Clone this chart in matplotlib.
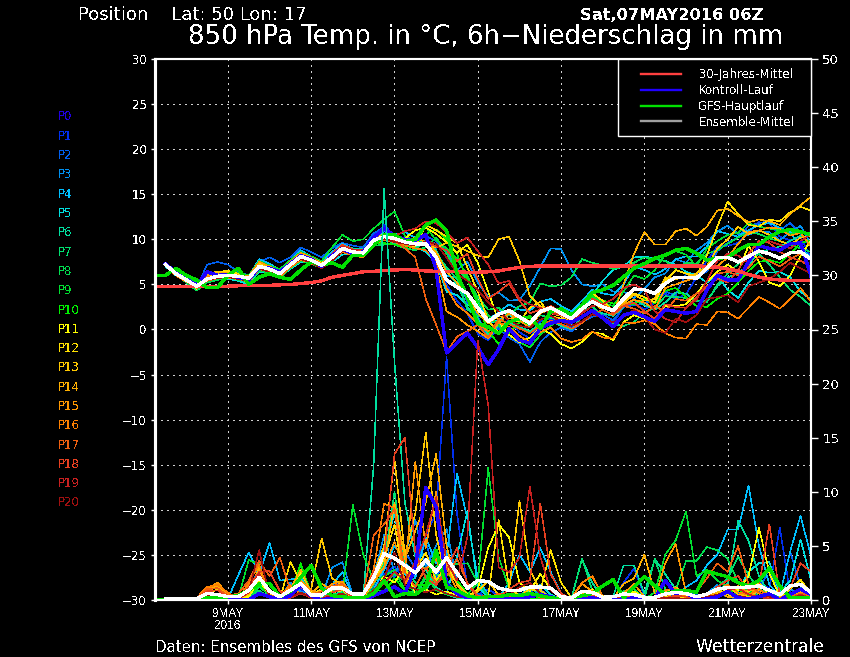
import numpy as np
import matplotlib
matplotlib.use("Agg")
import matplotlib.pyplot as plt
from matplotlib.lines import Line2D
from matplotlib.patches import Rectangle

#tick labels and time axis, one step is 6 hours from 07MAY 06Z
tick_steps = [7, 15, 23, 31, 39, 47, 55, 63]
tick_labels = ['9MAY\n2016', '11MAY', '13MAY', '15MAY', '17MAY', '19MAY', '21MAY', '23MAY']
n_steps = 64

#climate mean starts at step 0
climate = [4.75, 4.75, 4.75, 4.75, 4.75, 4.75, 4.75, 4.8, 4.85, 4.9, 4.9, 4.9, 4.95, 5.0, 5.1, 5.2,
           5.4, 5.8, 6.0, 6.2, 6.4, 6.45, 6.55, 6.6, 6.65, 6.6, 6.5, 6.45, 6.4, 6.4, 6.35, 6.35,
           6.4, 6.5, 6.7, 6.9, 7.0, 7.05, 7.05, 7.05, 7.05, 7.05, 7.05, 7.05, 7.05, 7.05, 7.05, 7.05,
           7.05, 7.05, 7.05, 7.05, 7.05, 7.0, 6.9, 6.7, 6.5, 6.1, 5.8, 5.6, 5.5, 5.45, 5.45, 5.45]

#main run starts at step 0 too
gfs_temp = [6.0, 6.0, 6.8, 6.0, 5.5, 4.65, 4.65, 6.0, 6.8, 5.0, 5.8, 6.2, 5.8, 5.55, 6.6, 7.5,
            7.15, 7.4, 6.9, 8.25, 8.25, 9.4, 10.5, 10.5, 9.75, 10.0, 11.6, 12.15, 11.0, 6.2, 3.6, 0.65,
            0.3, -0.45, 0.85, 1.2, 1.4, 0.1, 2.0, 2.3, 1.6, 2.7, 4.1, 4.4, 4.9, 5.85, 6.8, 7.3,
            7.9, 8.25, 8.8, 9.0, 8.45, 7.7, 7.9, 8.0, 8.8, 9.4, 9.4, 10.3, 10.85, 11.1, 10.85, 10.5]
gfs_precip = [0, 0, 0, 0, 0.1, 0.2, 0.2, 0.3, 0.4, 0.9, 1.5, 1.5, 0.3, 0.8, 2.1, 3.2,
              1.1, 0.4, 0.3, 0.2, 0.2, 0.6, 1.8, 0.3, 0.6, 0.5, 1.2, 4.6, 1.2, 0.9, 0.4, 0.2,
              0.3, 0.3, 0.5, 0.4, 0.6, 0.4, 0.2, 0.1, 0.2, 0.4, 0.6, 1.3, 1.9, 0.2, 1.2, 2.15,
              1.3, 0.55, 0.85, 0.9, 0.7, 2.65, 2.4, 2.15, 1.6, 1.3, 1.8, 2.95, 1.3, 0.2, 0.2, 0.2]

#ensemble mean, members start at step 1
mean_temp = [7.2, 6.2, 5.5, 4.8, 5.6, 5.9, 6.0, 5.9, 5.7, 7.0, 6.7, 6.2, 7.2, 8.1, 7.7, 7.1, 8.0, 9.0,
             8.6, 8.5, 9.9, 10.3, 10.1, 9.7, 9.5, 9.5, 8.0, 5.5, 4.7, 4.0, 2.4, 0.9, 1.7, 2.1, 1.4, 0.7,
             2.0, 2.4, 1.8, 1.2, 2.3, 3.1, 2.5, 2.1, 3.4, 4.5, 4.4, 4.0, 5.1, 5.8, 5.8, 5.7, 6.8, 8.0,
             8.0, 7.5, 8.1, 8.7, 8.4, 7.9, 8.5, 8.6, 7.8]
mean_precip = [0.1, 0.1, 0.1, 0.1, 0.6, 0.5, 0.3, 0.3, 0.9, 2.1, 0.8, 0.3, 0.9, 1.5, 0.45, 0.45, 1.1, 1.1,
               0.55, 0.55, 2.1, 4.3, 3.85, 3.2, 2.5, 3.7, 2.6, 3.9, 2.5, 1.1, 1.8, 1.7, 1.1, 0.9, 0.9, 1.2,
               1.2, 1.1, 0.3, 0.2, 0.8, 0.7, 0.25, 0.3, 0.55, 0.5, 0.25, 0.25, 0.55, 0.7, 0.6, 0.3, 0.55, 1.0,
               1.15, 1.15, 1.2, 1.3, 0.9, 0.5, 1.3, 1.45, 0.7]

#temperature of the members P0 to P20
p0_temp = [7.3, 6.3, 5.6, 4.9, 6.4, 6.0, 6.1, 5.8, 5.5, 6.9, 6.8, 6.4, 7.3, 8.2, 7.8, 7.0, 8.2, 9.0,
           8.4, 8.6, 10.2, 11.2, 10.4, 10.0, 9.9, 10.5, 6.6, -2.6, -1.5, -0.4, -2.0, -3.9, -2.2, 0.1, -1.2, -1.5,
           0.1, 0.7, 1.0, 0.8, 1.4, 2.1, 1.3, 0.3, 1.6, 1.9, 1.4, 0.9, 2.2, 2.0, 1.8, 2.0, 4.4, 6.0,
           5.5, 5.5, 7.5, 9.3, 9.0, 8.8, 9.5, 9.6, 5.9]
p1_temp = [7.1, 6.2, 5.5, 4.8, 5.8, 6.1, 5.9, 5.8, 5.7, 7.2, 6.5, 6.1, 7.1, 8.0, 7.6, 6.9, 7.9, 8.8,
           8.3, 8.4, 10.0, 11.6, 10.3, 9.8, 9.6, 9.8, 8.9, 5.0, 3.2, 1.8, -0.5, -1.2, 0.2, 1.0, -0.3, -1.0,
           0.9, 1.2, 0.6, 0.2, 1.3, 2.0, 1.4, 0.6, 2.6, 2.9, 2.2, 3.0, 4.0, 3.4, 3.9, 5.8, 7.6, 9.2,
           9.3, 9.6, 10.8, 11.9, 11.8, 10.3, 9.9, 10.2, 7.9]
p2_temp = [7.3, 6.4, 5.4, 4.6, 7.2, 7.5, 7.2, 6.4, 6.0, 7.5, 8.0, 7.4, 8.0, 9.1, 8.6, 8.0, 9.0, 9.6,
           9.3, 9.1, 10.7, 11.3, 10.5, 9.6, 9.9, 10.4, 9.8, 8.6, 6.1, 3.0, 1.5, -1.1, 0.1, -0.9, -1.6, -3.6,
           -1.4, -0.3, 0.2, -0.2, 0.8, 1.4, 1.7, 1.0, 2.5, 2.7, 2.9, 3.4, 4.2, 3.8, 6.2, 6.0, 6.4, 8.7,
           9.6, 10.2, 11.5, 11.8, 12.0, 11.0, 11.8, 10.6, 9.2]
p3_temp = [7.2, 6.1, 5.3, 4.6, 5.5, 5.8, 5.9, 6.1, 6.0, 6.7, 6.5, 6.0, 7.0, 8.0, 7.5, 6.9, 7.9, 8.9,
           8.4, 8.6, 10.0, 10.4, 9.9, 9.4, 9.4, 9.9, 9.5, 9.0, 6.6, 7.5, 5.2, 3.6, 4.1, 3.2, 3.3, 4.8,
           6.9, 9.0, 8.9, 6.6, 5.0, 4.8, 5.0, 4.2, 4.2, 3.5, 4.5, 5.8, 6.2, 7.8, 7.4, 8.8, 9.6, 10.9,
           11.5, 10.6, 10.5, 10.9, 10.8, 9.9, 10.8, 11.5, 9.4]
p4_temp = [7.4, 6.5, 5.8, 5.0, 6.3, 6.0, 6.3, 6.2, 5.9, 7.8, 7.3, 6.6, 7.6, 8.8, 8.1, 7.4, 8.6, 9.5,
           8.9, 8.6, 9.9, 10.9, 10.5, 10.8, 10.2, 9.6, 7.9, 6.0, 5.7, 3.3, 3.1, 1.1, 1.9, 2.8, 2.2, 2.1,
           3.1, 3.4, 2.6, 2.0, 3.2, 4.4, 4.0, 3.8, 5.0, 7.0, 6.6, 6.1, 6.7, 7.8, 8.1, 8.1, 9.2, 10.9,
           10.6, 10.3, 11.0, 11.6, 11.8, 11.3, 10.8, 9.1, 8.0]
p5_temp = [7.0, 6.0, 5.3, 4.6, 5.2, 5.6, 5.6, 5.4, 5.0, 6.4, 6.2, 5.9, 6.7, 7.5, 7.4, 6.9, 7.5, 8.3,
           8.4, 8.2, 9.4, 9.9, 9.8, 9.3, 9.2, 8.6, 7.4, 4.2, 3.8, 2.7, 2.9, 0.7, 1.0, 1.6, 1.0, 0.4,
           1.1, 1.5, 1.2, 0.6, 2.1, 3.8, 5.4, 6.6, 7.0, 8.0, 8.1, 7.9, 7.6, 7.2, 6.4, 6.0, 5.2, 6.0,
           4.4, 3.5, 5.2, 6.5, 6.3, 6.4, 5.8, 4.2, 3.3]
p6_temp = [7.2, 6.3, 5.6, 5.0, 5.9, 6.1, 6.2, 6.0, 5.8, 7.1, 6.8, 6.4, 7.4, 8.2, 7.8, 7.2, 8.1, 9.2,
           9.0, 8.9, 10.2, 10.6, 10.2, 9.3, 9.6, 9.9, 8.8, 6.5, 5.0, 2.5, 1.2, -0.6, 0.4, 0.8, 0.3, -0.2,
           0.6, 0.9, 0.4, 0.0, 1.5, 2.2, 1.8, 1.5, 2.5, 3.3, 2.7, 2.2, 3.0, 4.1, 4.0, 3.1, 3.2, 4.8,
           5.8, 6.2, 7.2, 8.5, 8.9, 9.2, 9.8, 10.4, 9.6]
p7_temp = [7.3, 6.4, 5.5, 4.9, 5.7, 6.1, 5.9, 5.7, 5.6, 6.8, 6.6, 6.0, 7.2, 7.9, 7.5, 7.0, 8.3, 9.1,
           8.5, 8.6, 10.0, 10.1, 9.5, 9.4, 9.0, 9.7, 8.4, 6.9, 5.6, 2.2, 1.5, 1.2, 0.6, 2.0, 1.0, 0.8,
           1.6, 1.3, 1.0, 0.7, 1.9, 2.6, 1.4, 0.6, 0.4, 0.8, 1.9, 2.4, 3.7, 3.6, 3.5, 3.2, 3.0, 5.0,
           6.2, 7.3, 8.0, 8.4, 7.2, 5.8, 4.4, 3.6, 2.6]
p8_temp = [7.1, 6.1, 5.2, 4.3, 5.2, 5.5, 5.8, 5.5, 5.3, 6.5, 6.3, 5.7, 6.8, 7.6, 7.3, 6.8, 7.7, 8.6,
           8.2, 8.3, 9.3, 9.4, 9.4, 9.0, 8.8, 9.1, 10.2, 8.4, 6.6, 5.6, 3.6, 2.2, 2.4, 1.6, 2.6, 3.0,
           5.1, 4.8, 4.9, 5.8, 7.8, 7.4, 7.1, 6.7, 7.0, 7.4, 8.0, 7.8, 7.6, 6.8, 7.4, 7.3, 8.4, 8.8,
           9.5, 10.2, 10.8, 10.6, 10.1, 9.8, 9.4, 9.0, 8.6]
p9_temp = [7.3, 6.4, 5.7, 5.2, 6.0, 6.2, 6.4, 6.3, 6.0, 7.6, 7.1, 6.7, 7.7, 8.6, 8.1, 7.6, 9.1, 10.5,
           9.8, 10.0, 11.2, 12.2, 13.1, 10.4, 9.8, 11.4, 9.9, 9.0, 7.8, 6.0, 3.2, 1.6, 0.4, -0.6, -1.4, -2.0,
           -0.6, 0.4, 1.2, 1.5, 2.8, 3.6, 3.0, 2.6, 4.2, 6.0, 5.6, 6.6, 8.3, 8.7, 8.3, 7.0, 9.0, 9.8,
           10.5, 10.7, 11.8, 11.4, 11.2, 11.0, 10.6, 10.9, 10.4]
p10_temp = [7.2, 6.2, 5.4, 4.7, 5.7, 5.8, 6.2, 6.0, 5.7, 6.9, 6.5, 6.2, 7.3, 8.0, 7.7, 7.2, 7.8, 8.8,
            8.3, 8.4, 9.6, 9.6, 9.4, 9.1, 9.4, 10.6, 11.1, 10.0, 8.4, 5.5, 2.8, -0.2, -1.6, -0.4, 0.8, 0.6,
            2.1, 2.5, 2.0, 1.1, 2.6, 3.8, 3.2, 2.9, 3.0, 2.8, 3.4, 2.9, 4.3, 4.6, 3.6, 2.6, 2.5, 3.4,
            4.0, 5.2, 6.5, 7.5, 7.7, 7.4, 8.4, 9.6, 9.9]
p11_temp = [7.4, 6.5, 5.6, 4.5, 5.9, 6.2, 6.4, 6.2, 5.6, 6.8, 6.6, 6.3, 7.2, 8.1, 7.8, 7.3, 8.1, 9.1,
            8.3, 8.0, 9.6, 10.4, 10.2, 10.1, 11.0, 11.3, 10.6, 9.7, 8.5, 9.4, 7.4, 4.2, 0.9, -0.6, -1.4, -0.9,
            0.2, -0.5, -1.6, -2.1, -1.4, -0.3, -0.5, -1.2, 0.8, 1.6, 1.2, 1.0, 2.6, 2.6, 2.8, 4.0, 5.3, 6.4,
            7.2, 6.4, 9.3, 7.5, 5.2, 4.8, 6.0, 8.2, 9.9]
p12_temp = [7.3, 6.3, 5.5, 4.7, 6.1, 6.4, 6.5, 6.2, 5.7, 7.4, 6.9, 6.5, 7.3, 8.4, 7.9, 7.4, 8.1, 8.9,
            8.8, 8.6, 10.1, 10.5, 10.2, 9.6, 9.2, 11.6, 11.0, 10.3, 9.6, 6.9, 4.2, 1.0, -0.4, 1.0, 0.9, 2.4,
            3.1, 1.5, 1.2, 1.0, 2.8, 4.0, 3.2, 2.0, 3.0, 4.0, 3.6, 3.0, 5.4, 6.6, 6.2, 6.0, 8.2, 11.4,
            14.2, 12.8, 11.6, 11.4, 12.2, 12.0, 13.0, 13.6, 13.2]
p13_temp = [7.2, 6.1, 5.4, 4.8, 6.2, 6.4, 6.2, 5.8, 5.6, 7.2, 6.7, 6.1, 7.0, 8.1, 7.6, 7.0, 7.8, 9.0,
            8.5, 8.4, 9.7, 10.2, 9.9, 9.8, 9.8, 9.4, 9.1, 9.6, 9.2, 8.7, 8.2, 8.0, 10.0, 10.3, 7.6, 3.7,
            2.6, 1.8, 1.5, 1.0, 2.2, 3.2, 2.4, 2.0, 2.9, 3.9, 3.2, 3.4, 5.8, 5.6, 5.8, 6.2, 7.0, 9.0,
            10.0, 11.4, 10.6, 11.0, 10.5, 9.8, 9.4, 10.2, 10.4]
p14_temp = [7.3, 6.2, 5.6, 5.0, 6.0, 6.2, 6.3, 6.0, 5.8, 7.1, 6.6, 6.1, 7.1, 8.3, 7.7, 7.1, 8.3, 9.3,
            8.7, 8.4, 9.9, 10.6, 10.1, 9.8, 10.2, 9.7, 8.6, 6.4, 5.2, 3.6, 1.8, 0.7, 1.5, 1.2, 1.4, 0.9,
            2.0, 2.4, 1.6, 1.4, 2.6, 3.0, 2.2, 1.6, 5.0, 8.4, 10.8, 9.4, 9.4, 10.9, 11.2, 10.4, 11.4, 13.2,
            13.4, 12.6, 11.9, 12.2, 12.0, 11.6, 12.8, 13.8, 14.7]
p15_temp = [7.4, 6.4, 5.6, 4.9, 6.3, 6.1, 6.2, 6.0, 5.9, 7.5, 7.0, 6.4, 7.5, 8.5, 8.0, 7.3, 8.2, 9.2,
            8.7, 8.3, 10.0, 10.5, 10.0, 9.7, 9.4, 9.5, 7.2, 2.0, 1.4, 0.5, -0.2, -1.0, 0.8, 1.8, 1.0, 0.2,
            1.8, 2.2, 1.6, 1.2, 2.2, 3.0, 2.8, 2.2, 2.8, 3.3, 3.0, 2.2, 4.6, 5.0, 5.4, 5.8, 6.7, 7.0,
            8.0, 9.5, 10.8, 11.0, 11.3, 11.2, 10.4, 10.7, 9.2]
p16_temp = [7.1, 6.0, 5.3, 4.7, 5.8, 5.8, 5.7, 5.6, 5.3, 6.7, 6.4, 5.8, 6.9, 7.7, 7.4, 6.8, 7.7, 8.6,
            8.2, 8.0, 9.5, 9.9, 9.7, 9.3, 9.0, 8.8, 7.6, 4.6, 2.7, 1.8, 0.6, -0.2, 0.8, 0.3, -0.7, -1.4,
            -0.3, 0.2, -1.0, -1.4, -1.1, -0.2, -0.9, -1.0, 0.8, 0.7, 1.0, 0.6, -0.4, -0.9, -1.0, 0.6, 0.5, 2.0,
            1.9, 1.2, 2.4, 3.6, 3.0, 2.3, 3.4, 4.6, 3.1]
p17_temp = [7.2, 6.1, 5.4, 4.6, 5.4, 5.7, 6.0, 5.9, 5.5, 6.8, 6.4, 6.0, 7.0, 7.9, 7.3, 6.9, 7.8, 8.8,
            8.3, 8.3, 9.7, 10.4, 9.9, 9.0, 8.0, 3.4, 0.5, -2.5, -0.8, -0.2, 0.5, -0.9, 1.2, 0.6, 0.1, -0.4,
            0.4, 1.0, 0.6, 0.1, 0.7, 1.7, 2.2, 1.6, 2.6, 2.3, 1.8, 2.6, 2.0, 3.4, 3.2, 4.0, 4.5, 6.2,
            6.4, 6.0, 6.9, 8.1, 7.6, 7.0, 7.8, 8.4, 8.0]
p18_temp = [7.3, 6.3, 5.5, 4.9, 5.7, 5.9, 5.9, 5.7, 5.6, 7.0, 6.7, 6.2, 7.2, 8.2, 7.6, 7.1, 8.4, 9.4,
            8.9, 8.6, 9.8, 10.2, 9.8, 9.6, 9.3, 9.7, 9.2, 8.8, 7.6, 8.4, 5.6, 3.4, 4.2, 5.1, 3.2, 1.8,
            2.2, 2.6, 2.0, 1.8, 1.9, 3.4, 2.8, 1.8, 2.6, 3.0, 2.0, 1.2, 2.8, 2.5, 2.4, 3.6, 4.8, 5.6,
            5.2, 6.6, 8.4, 9.8, 9.6, 8.6, 8.0, 7.6, 7.0]
p19_temp = [7.2, 6.2, 5.4, 4.7, 5.5, 5.8, 6.1, 6.0, 5.8, 7.0, 6.6, 6.3, 7.4, 8.0, 7.5, 7.1, 8.2, 9.2,
            8.8, 8.9, 10.0, 10.4, 10.4, 10.9, 11.2, 12.0, 11.8, 10.8, 9.6, 10.2, 8.7, 7.2, 5.1, 5.4, 3.4, 2.8,
            2.4, 1.8, 1.6, 1.0, 1.8, 2.6, 2.8, 3.4, 4.6, 5.0, 4.4, 2.0, 1.2, 0.8, 2.4, 3.3, 5.4, 7.6,
            8.4, 8.2, 7.4, 9.6, 9.8, 9.4, 9.0, 9.8, 10.6]
p20_temp = [7.1, 6.2, 5.5, 4.8, 5.5, 5.7, 5.8, 5.6, 5.4, 6.8, 6.3, 6.1, 7.2, 7.8, 7.4, 6.8, 7.6, 8.7,
            8.4, 8.4, 9.6, 10.1, 9.7, 9.5, 9.3, 9.8, 9.5, 8.0, 6.2, 5.4, 4.4, 3.0, 2.0, 1.0, 0.4, 0.2,
            1.1, 1.5, 0.9, 0.4, 0.9, 1.7, 1.3, 0.8, 1.4, 2.2, 1.4, 0.0, -0.4, 1.2, 0.8, 1.6, 3.4, 3.6,
            3.8, 3.0, 4.8, 5.2, 5.6, 6.4, 7.4, 6.8, 6.2]

#precipitation of the members, same layout
p0_precip = [0, 0, 0, 0, 0, .1, .2, .1, 0, .6, .3, 0, .4, 1.4, .4, 0, .2, .3,
             0, 0, .4, .8, 1.2, .6, 3, 10.4, 8.6, 1.5, .6, .2, .1, .3, .2, .1, .1, .3,
             .5, .3, 0, 0, .1, .2, 0, 0, .1, .2, 0, .1, 1.8, .6, .7, 0, .1, .3,
             .8, .2, .1, .3, .6, 0, .5, 1, .5]
p1_precip = [0, 0, 0, 0, 0, .2, .1, 0, .3, 1.8, .2, .1, .5, 1.0, .2, .1, 1.2, 1.8,
             .2, .1, 1.2, 2.4, 3.1, 1.8, 2.5, 6, 8, 22.5, 8, 1.2, .5, 1, .4, .2, .3, .8,
             1, .2, 0, .1, .4, .6, .2, .1, 1.6, 2.9, .4, 0, .2, .5, .1, .1, .3, .6,
             .3, .1, 1, 1.8, 1, 6.7, .6, .5, .8]
p2_precip = [0, 0, 0, 0, .1, .4, .2, .1, 1.0, 2.6, .4, 0, .8, 1.4, .3, .1, .7, 1.2,
             .3, .2, 1.8, 3.2, 2.1, 4.4, 3, 5.4, 2, 4.2, 2.6, 1.1, .6, .2, .5, .3, .6, .4,
             .8, .2, 0, .1, .3, .2, 0, .4, .6, 1, .2, .1, .7, .3, .9, .5, .1, .4,
             1.1, .6, .2, .8, 3, .4, 4.5, 1.2, .6]
p3_precip = [0, 0, 0, 0, .2, .6, .3, 0, .8, 3.0, .5, .2, 1.6, .8, .5, .3, 3.0, 3.5,
             .4, .3, 2.2, 6, 2.5, 4.2, 7.4, 3, 5, 6.6, 1.8, .4, .2, .4, .2, .1, .4, 1.2,
             .4, .1, 0, 0, .2, .5, .2, 0, .3, .8, .3, 0, .2, .1, .2, .3, .6, 1.4,
             .7, .4, .4, 1.6, .5, .2, 1, .6, .2]
p4_precip = [0, 0, 0, 0, .1, .3, .1, 2.3, 4.4, 2.4, 5.3, 1.8, 1.9, 2.1, .7, .2, 1.4, 2.6,
             .3, .1, 1, 2.8, 5, 3.6, 2, 5.8, 3.4, 4.1, 11.7, 7.5, 2, .5, .2, 1.6, 4.2, 2.6,
             4.8, 2.6, .6, .1, .3, .2, 0, .1, .2, .4, .1, 0, .1, .3, 1.2, 1.8, 3.2, 4.2,
             6.5, 6.5, 10.6, 5, 1.4, .4, 4.5, 7.8, 4]
p5_precip = [0, 0, 0, 0, 0, .2, .2, .1, .5, 1.2, .5, .1, .8, 1.6, .3, .1, .4, .8,
             .2, .1, 1.5, 4.5, 8, 2.4, 1.2, 3, .9, .6, 4, 8.2, 1.2, .3, .2, .4, 1.2, .8,
             1.4, .5, .1, .1, .4, .8, .2, .1, .4, .6, .2, .1, .3, .2, .1, .2, .5, 1,
             1.2, .8, 2.6, 3.4, 3.5, .7, 1.8, 5.6, 1.8]
p6_precip = [0, 0, 0, .1, .5, .3, .1, .1, .6, 1.6, .2, 0, .4, 2.4, .6, .1, .9, 1,
             .2, .3, 12.5, 38, 22, 9, 4, 2.8, 1.2, .5, .2, .2, .1, .1, .1, .2, .3, 1,
             .7, .4, .1, .2, 3.8, 1.6, .2, .3, 3.2, 3.2, .6, 3.8, 2.4, 1, .8, .2, .4, .8,
             1.5, 7.3, 5.5, 2.2, .6, .2, .4, .8, .5]
p7_precip = [0, 0, 0, 0, .2, .4, .1, .1, .3, .9, .2, 0, .6, 2.6, .4, 0, .5, .7,
             .1, .1, 1.4, 3.4, 10, 3, 1.6, .9, 2.4, 1.8, .6, .2, .1, .1, 0, 0, .2, .5,
             .4, .1, 0, .1, 3.8, .9, .1, 0, .1, .3, .1, 3.8, 1, .4, .2, .1, .6, 1.2,
             2, 4, 2.3, 1, .6, .3, .5, .7, .4]
p8_precip = [0, 0, 0, .2, .7, .5, .2, .1, .3, 1.2, .5, .1, .3, 1.6, .7, .1, .2, .6,
             .2, .4, .9, 1.5, 2.4, 1.8, .6, 2, 3.1, 3.4, 3.3, 3.4, 1.6, .4, .2, .1, .3, .6,
             .2, .1, 0, 0, .2, .4, 0, 0, .8, 1, .2, .1, .6, .9, 3.6, 3.6, 4.9, 4.6,
             3.8, 1.6, .8, .4, .2, 0, .2, .4, .2]
p9_precip = [0, 0, 0, .1, .3, .6, .2, .2, 3.7, 3.3, .3, 0, .3, 3.3, .6, .1, .3, .5,
             8.8, 4.2, 1.8, 2.2, 2.8, .9, .6, 2.3, .9, .5, .3, .5, 1.6, 12.2, 4, 1, .5, .7,
             .5, .3, .1, .2, .4, .2, .1, .3, .4, .2, .1, .7, 4.2, 5.5, 8.2, 2.2, 2.8, 1.8,
             1.2, .5, .3, 1, .4, .1, .3, .4, .2]
p10_precip = [0, 0, 0, 0, .2, .3, .1, .2, .4, 1.4, .5, 0, .6, 3.4, .4, 0, .4, .4,
              .1, .2, 1, .8, 2, .9, 1.4, 1.4, 1.8, 2.4, 1.8, .6, .2, .1, 0, .1, .1, .1,
              .2, .1, 0, 0, .1, .3, .2, .1, .1, .4, .1, 0, .3, .2, .1, .1, .2, .4,
              .6, 1, .4, 1.6, .6, .1, .5, 1, .3]
p11_precip = [.1, .1, 0, 0, .1, .4, .1, .1, .3, 1.8, .5, .1, .4, 2.6, .7, .1, .2, .3,
              .1, .1, .7, 2.2, 1.6, 3.1, .6, 1, .5, .8, .4, .3, 1, 4.8, 7, 5.8, 1.6, .8,
              2.4, 1, .1, 0, .3, 1, .3, .1, .4, .8, .2, .1, .1, .3, .1, 0, .2, .5,
              1, .9, 2.2, 6.7, 2.5, .3, 1.2, 1.8, .4]
p12_precip = [.1, 0, 0, 0, .3, .5, .2, .2, .5, 2, .6, .1, 3.5, 1.6, .5, 1, .7, .9,
              .2, .2, 1.6, 3.8, 7, 1.4, 2.8, 4.4, 1.8, 3.2, 1.5, .5, .3, .4, 7.4, 1.2, .4, 1,
              .8, 4.6, 1.6, .2, .3, .8, .4, .2, .5, .6, .1, .1, .4, .3, .2, .1, .3, .8,
              .5, .3, .8, 1.6, .4, .2, 1, 1.9, .5]
p13_precip = [0, 0, 0, .1, .5, 1, .3, .1, .8, 2.8, .4, .1, .5, 1.4, 1, 5.7, 2, 1.4,
              .3, .3, 2.4, 5, 13, 4.2, 8, 15.5, 6, 1.6, .6, .3, .8, 1.8, .4, .9, 9.2, 2.8,
              .9, .2, .1, .1, .4, .9, .2, .1, .3, .4, .1, .3, .8, 1.2, .3, .2, .6, .7,
              1.4, .5, .3, .9, .5, .1, .4, .9, .3]
p14_precip = [0, 0, 0, .1, .8, 1.3, .5, .1, .6, 3, .3, .1, 1, 2.8, .6, 1.5, .9, 1.6,
              .3, .2, 1.8, 3, 9, 3.8, 6.4, 9, 13.5, 5, 1.4, .4, .2, .3, .3, .2, .4, .6,
              .3, .1, 0, .2, .6, .5, .2, .1, 1.5, 2, 4.2, .6, .1, .4, .6, .3, .2, .7,
              .3, .2, 1, .6, .3, .1, .3, .8, .2]
p15_precip = [0, 0, 0, .2, 1, 1.6, .6, .2, 1.4, 2.4, .7, .2, 1.2, 1.8, .9, .4, 1.5, 1.7,
              .4, .3, 1.6, 3, 5.4, 2.6, 12.8, 4.8, 10, 3, .9, .2, .1, .1, .2, .2, .5, .3,
              .6, .2, .1, .2, 1.5, .8, .1, .1, .6, 1.5, .3, .1, 3.4, 5.2, .6, .3, .2, .5,
              .9, 1.3, .6, .3, .2, .1, .2, .7, .2]
p16_precip = [0, 0, 0, .2, 1.2, 1.4, .7, .1, 1.6, 3.3, .4, .4, 1.4, .5, .6, .3, 1.2, 1.3,
              .3, .5, 2.8, 8.9, 8.5, 1.4, 3.4, 2.8, 3.8, 1.2, .7, .3, .2, .2, .1, .1, .4, .5,
              .4, .2, .1, .2, 1.6, 2.2, .3, .1, .2, .5, .1, .2, .9, 1.1, .2, .2, .4, .9,
              1.4, .7, .5, 1, .4, .2, .6, 1, .3]
p17_precip = [0, 0, 0, .2, 1, 1.1, .4, .6, 1.8, 3.6, 2.2, 3.9, .9, 1.2, .5, .8, 1.3, 1.5,
              .4, .3, 6, 7, 8.4, 2.6, 1.2, 3, 1.6, 2.2, 3.8, 1.6, .4, .2, .6, .3, .5, .7,
              .2, .1, .1, .1, .3, .4, .1, .1, .2, .4, .1, .1, .4, .8, .6, .8, 2, 3.4,
              2.6, 5, 1.4, .7, .2, .2, .3, .6, .4]
p18_precip = [0, 0, 0, .1, .8, .9, .2, .1, 1.2, 2.6, 2.7, .8, .4, .6, .3, .1, .7, 1.0,
              .2, .2, 2.6, 4, 13.5, 15, 4.4, 2, 1.4, 2.8, 4.8, 1.4, .3, .4, .2, 1, 1.6, 1.8,
              8.9, 2.4, .6, .1, .2, .3, .2, .1, .4, .6, .2, .1, .2, .4, .3, .1, .5, 1.2,
              1.8, 2.2, .9, 1.3, 7, .5, 1.1, 3.4, 2.6]
p19_precip = [0, 0, 0, .1, .5, .6, .1, .1, .7, 2.5, .3, .1, .2, .6, .2, .1, .3, .3,
              .1, .1, .7, 1.5, 2.6, 1.8, 3.5, 6, 9.5, 3.6, 1.8, 5.8, 24, 18, 3, 2.6, 3.9, 10.5,
              4, .9, .2, .1, .1, .1, 0, .1, .1, .2, 0, .1, .1, .2, .1, .1, .2, .4,
              .9, 1.1, .5, .3, .1, .1, .2, .5, .2]
p20_precip = [0, 0, 0, .1, .4, .5, .1, .2, .8, 4.6, .3, .1, .3, .7, .2, .1, .4, .6,
              .1, .1, .9, 2, 4.4, 1.4, 1, .7, 1, .6, .3, .2, .1, .1, .2, .4, 1.2, 1.6,
              .6, .2, .1, .1, .1, .2, .1, 0, .1, .2, .1, .1, .2, .2, .1, .1, .3, .5,
              .7, .4, .2, .4, .3, .1, .2, .4, .2]

member_temp = [p0_temp, p1_temp, p2_temp, p3_temp, p4_temp, p5_temp, p6_temp, p7_temp, p8_temp, p9_temp, p10_temp,
               p11_temp, p12_temp, p13_temp, p14_temp, p15_temp, p16_temp, p17_temp, p18_temp, p19_temp, p20_temp]
member_precip = [p0_precip, p1_precip, p2_precip, p3_precip, p4_precip, p5_precip, p6_precip, p7_precip, p8_precip,
                 p9_precip, p10_precip, p11_precip, p12_precip, p13_precip, p14_precip, p15_precip, p16_precip,
                 p17_precip, p18_precip, p19_precip, p20_precip]
member_names = ['P%d' % n for n in range(21)]
member_colors = ['#2000e0', '#0030f0', '#0060f0', '#0090f0', '#00c0ff', '#00e0e0', '#00e0a0', '#00e070', '#00e050',
                 '#00e030', '#00f000', '#ffff00', '#ffe000', '#ffc800', '#ffb000', '#ff9800', '#ff8000', '#f06010',
                 '#e84020', '#c82020', '#a01010']

legend_names = ['30-Jahres-Mittel', 'Kontroll-Lauf', 'GFS-Hauptlauf', 'Ensemble-Mittel']
legend_colors = ['#ff4040', '#2000ff', '#00e000', '#a0a0a0']

plt.rcParams['font.family'] = ['DejaVu Sans']
plt.rcParams['text.antialiased'] = False

W, H = 850, 657
fig = plt.figure(figsize=(W / 100, H / 100), dpi=100, facecolor='black')
ax = fig.add_axes([155 / W, 1 - 600 / H, 656 / W, 541 / H], facecolor='black')
ax2 = ax.twinx()

steps = np.arange(n_steps)
thin = 0.36
thick = 1.7

#thin member lines, temperature and precipitation
for temp, precip, color in zip(member_temp, member_precip, member_colors):
    ax.plot(steps[1:], temp, color=color, lw=thin, antialiased=False)
    ax2.plot(steps[1:], precip, color=color, lw=thin, antialiased=False)

#thick lines on top
ax.plot(steps[1:], p0_temp, color='#2000ff', lw=thick, antialiased=False)
ax2.plot(steps[1:], p0_precip, color='#2000ff', lw=thick, antialiased=False)
ax.plot(steps, climate, color='#ff4040', lw=thick, antialiased=False)
ax.plot(steps, gfs_temp, color='#00e000', lw=thick, antialiased=False)
ax2.plot(steps, gfs_precip, color='#00e000', lw=thick, antialiased=False)
ax.plot(steps[1:], mean_temp, color='white', lw=thick, antialiased=False)
ax2.plot(steps[1:], mean_precip, color='white', lw=thick, antialiased=False)

ax.set_xlim(0, 63)
ax.set_ylim(-30, 30)
ax2.set_ylim(0, 50)

ax.set_xticks(tick_steps)
ax.set_xticklabels(tick_labels, fontsize=8.5, color='white', linespacing=0.95, family='Liberation Sans')
ax.set_yticks(np.arange(-30, 31, 5))
ax2.set_yticks(np.arange(0, 51, 5))
ax.tick_params(axis='x', colors='white', length=3, width=1, pad=3)
ax.tick_params(axis='y', colors='white', length=3, width=1, pad=3, labelsize=8.5)
ax2.tick_params(axis='y', colors='white', length=5, width=1, pad=3, labelsize=9.5)
ax2.set_zorder(ax.get_zorder() + 1)

ax.grid(True, color='#d0d0d0', lw=0.75, linestyle=(0, (1, 4.5)), antialiased=False)
ax.set_axisbelow(True)

for a in (ax, ax2):
    for side in a.spines:
        a.spines[side].set_color('white')
        a.spines[side].set_linewidth(1.5)
    a.spines['left'].set_linewidth(2.2)

#legend box, the frame is wider on the left than the legend padding allows
ax2.add_patch(Rectangle((618 / W, 1 - 136 / H), 193 / W, 77 / H, transform=fig.transFigure, facecolor='black',
                        edgecolor='white', lw=1, zorder=4.5, clip_on=False))
handles = [Line2D([0], [0], color=c, lw=thick, antialiased=False) for c in legend_colors]
leg = ax2.legend(handles, legend_names, loc='upper left', bbox_to_anchor=(641 / W, 1 - 68 / H),
                 bbox_transform=fig.transFigure, borderaxespad=0, frameon=False, fontsize=8.5, labelcolor='white',
                 handlelength=3.4, handletextpad=1.5, labelspacing=0.24, borderpad=0)

#member names down the left side
for n, (name, color) in enumerate(zip(member_names, member_colors)):
    fig.text(58 / W, 1 - (117 + 19.3 * n) / H, name, color=color, fontsize=8.5, va='center', ha='left')

#header and footer
fig.text(78 / W, 1 - 15 / H, 'Position    Lat: 50 Lon: 17', color='white', fontsize=13, va='center')
fig.text(580 / W, 1 - 15 / H, 'Sat,07MAY2016 06Z', color='white', fontsize=11.7, va='center', fontweight='bold')
fig.text(188 / W, 1 - 37 / H, '850 hPa Temp. in \u00b0C, 6h\u2212Niederschlag in mm', color='white', fontsize=18.7, va='center')
fig.text(155 / W, 1 - 647 / H, 'Daten: Ensembles des GFS von NCEP', color='white', fontsize=10.8, va='center')
fig.text(696 / W, 1 - 647 / H, 'Wetterzentrale', color='white', fontsize=12.3, va='center')

fig.savefig('out.png', dpi=100, facecolor='black')
